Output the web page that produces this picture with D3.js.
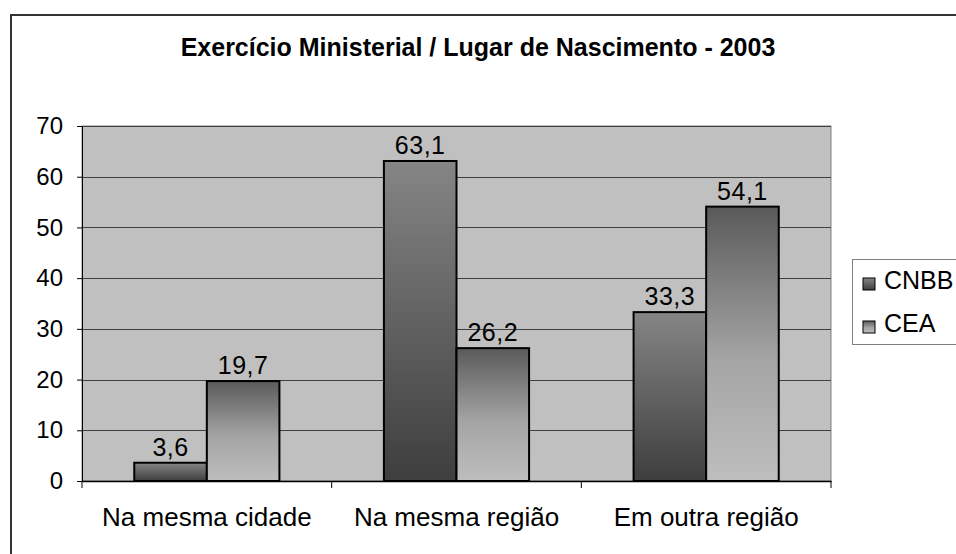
<!DOCTYPE html>
<html>
<head>
<meta charset="utf-8">
<script src="https://cdn.jsdelivr.net/npm/d3@7"></script>
<style>
  body { margin: 0; background: #fff; }
  svg { display: block; font-family: "Liberation Sans", Arial, sans-serif; }
</style>
</head>
<body>
<svg id="chart"></svg>
<script>
const categories = ["Na mesma cidade", "Na mesma região", "Em outra região"];
const seriesNames = ["CNBB", "CEA"];
const cnbb = [3.6, 63.1, 33.3];
const cea = [19.7, 26.2, 54.1];
const yTicks = [0, 10, 20, 30, 40, 50, 60, 70];

const W = 956, H = 554;
const plot = { left: 82, right: 831, top: 126, bottom: 481 };
const FONT = "Liberation Sans, Arial, sans-serif";

const svg = d3.select("#chart").attr("width", W).attr("height", H);

// gradients, one per series
const defs = svg.append("defs");
const g1 = defs.append("linearGradient").attr("id", "gCNBB")
  .attr("x1", 0).attr("y1", 0).attr("x2", 0).attr("y2", 1);
g1.append("stop").attr("offset", "0%").attr("stop-color", "#858585");
g1.append("stop").attr("offset", "100%").attr("stop-color", "#3e3e3e");
const g2 = defs.append("linearGradient").attr("id", "gCEA")
  .attr("x1", 0).attr("y1", 0).attr("x2", 0).attr("y2", 1);
g2.append("stop").attr("offset", "0%").attr("stop-color", "#5a5a5a");
g2.append("stop").attr("offset", "55%").attr("stop-color", "#a4a4a4");
g2.append("stop").attr("offset", "100%").attr("stop-color", "#bebebe");
const fills = ["url(#gCNBB)", "url(#gCEA)"];

// outer chart border
svg.append("rect").attr("x", 11).attr("y", 15).attr("width", W).attr("height", H)
  .attr("fill", "#fff").attr("stroke", "#333").attr("stroke-width", 2);

svg.append("text").attr("x", 478).attr("y", 56).attr("text-anchor", "middle")
  .attr("font-size", 25).attr("font-weight", "bold")
  .text("Exercício Ministerial / Lugar de Nascimento - 2003");

const x0 = d3.scaleBand().domain(categories).range([plot.left, plot.right]).paddingInner(0).paddingOuter(0);
const x1 = d3.scaleBand().domain(seriesNames).range([0, x0.bandwidth()]).paddingInner(0).paddingOuter(0.72);
const y = d3.scaleLinear().domain([0, 70]).range([plot.bottom, plot.top]);

svg.append("rect").attr("x", plot.left).attr("y", plot.top)
  .attr("width", plot.right - plot.left).attr("height", plot.bottom - plot.top)
  .attr("fill", "#c0c0c0").attr("stroke", "#808080").attr("stroke-width", 1);

// gridlines
svg.append("g").selectAll("line").data(yTicks.filter(d => d > 0)).join("line")
  .attr("x1", plot.left).attr("x2", plot.right)
  .attr("y1", d => Math.round(y(d)) + 0.5).attr("y2", d => Math.round(y(d)) + 0.5)
  .attr("stroke", "#404040").attr("stroke-width", 1);

// y axis
const yAxis = svg.append("g").attr("transform", `translate(${plot.left},0)`)
  .call(d3.axisLeft(y).tickValues(yTicks).tickSize(5).tickPadding(14).tickSizeOuter(0));
yAxis.selectAll("text").attr("font-size", 24).attr("fill", "#000").attr("font-family", FONT);
yAxis.selectAll("line").attr("stroke", "#000");
yAxis.select(".domain").attr("stroke", "#000");

// bars
const rows = categories.map((c, i) => ({ cat: c, vals: [cnbb[i], cea[i]] }));
const grp = svg.append("g").selectAll("g").data(rows).join("g")
  .attr("transform", d => `translate(${x0(d.cat)},0)`);
grp.selectAll("rect").data(d => d.vals.map((v, j) => ({ v, s: seriesNames[j], j }))).join("rect")
  .attr("x", d => x1(d.s))
  .attr("y", d => y(d.v))
  .attr("width", x1.bandwidth())
  .attr("height", d => y(0) - y(d.v))
  .attr("fill", d => fills[d.j])
  .attr("stroke", "#000").attr("stroke-width", 2);
grp.selectAll("text").data(d => d.vals.map((v, j) => ({ v, s: seriesNames[j] }))).join("text")
  .attr("x", d => x1(d.s) + x1.bandwidth() / 2)
  .attr("y", d => y(d.v) - 7)
  .attr("text-anchor", "middle").attr("font-size", 25).attr("letter-spacing", 0.5)
  .text(d => String(d.v).replace(".", ","));

// x axis
const xAxis = svg.append("g").attr("transform", `translate(0,${plot.bottom})`)
  .call(d3.axisBottom(x0).tickSize(0).tickPadding(27));
xAxis.select(".domain").attr("stroke", "#000").attr("stroke-width", 1.5);
xAxis.selectAll("text").attr("font-size", 26).attr("fill", "#000").attr("font-family", FONT);
svg.append("g").selectAll("line").data(d3.range(categories.length + 1)).join("line")
  .attr("x1", i => plot.left + i * x0.bandwidth()).attr("x2", i => plot.left + i * x0.bandwidth())
  .attr("y1", plot.bottom).attr("y2", plot.bottom + 7)
  .attr("stroke", "#000");

// legend
const lg = svg.append("g");
lg.append("rect").attr("x", 852.5).attr("y", 259.5).attr("width", 120).attr("height", 85)
  .attr("fill", "#fff").attr("stroke", "#808080");
seriesNames.forEach((s, i) => {
  const ly = 278 + i * 43;
  lg.append("rect").attr("x", 863).attr("y", ly).attr("width", 12).attr("height", 12)
    .attr("fill", fills[i]).attr("stroke", "#000").attr("stroke-width", 1);
  lg.append("text").attr("x", 884).attr("y", ly + 11).attr("font-size", 25).text(s);
});
</script>
</body>
</html>
